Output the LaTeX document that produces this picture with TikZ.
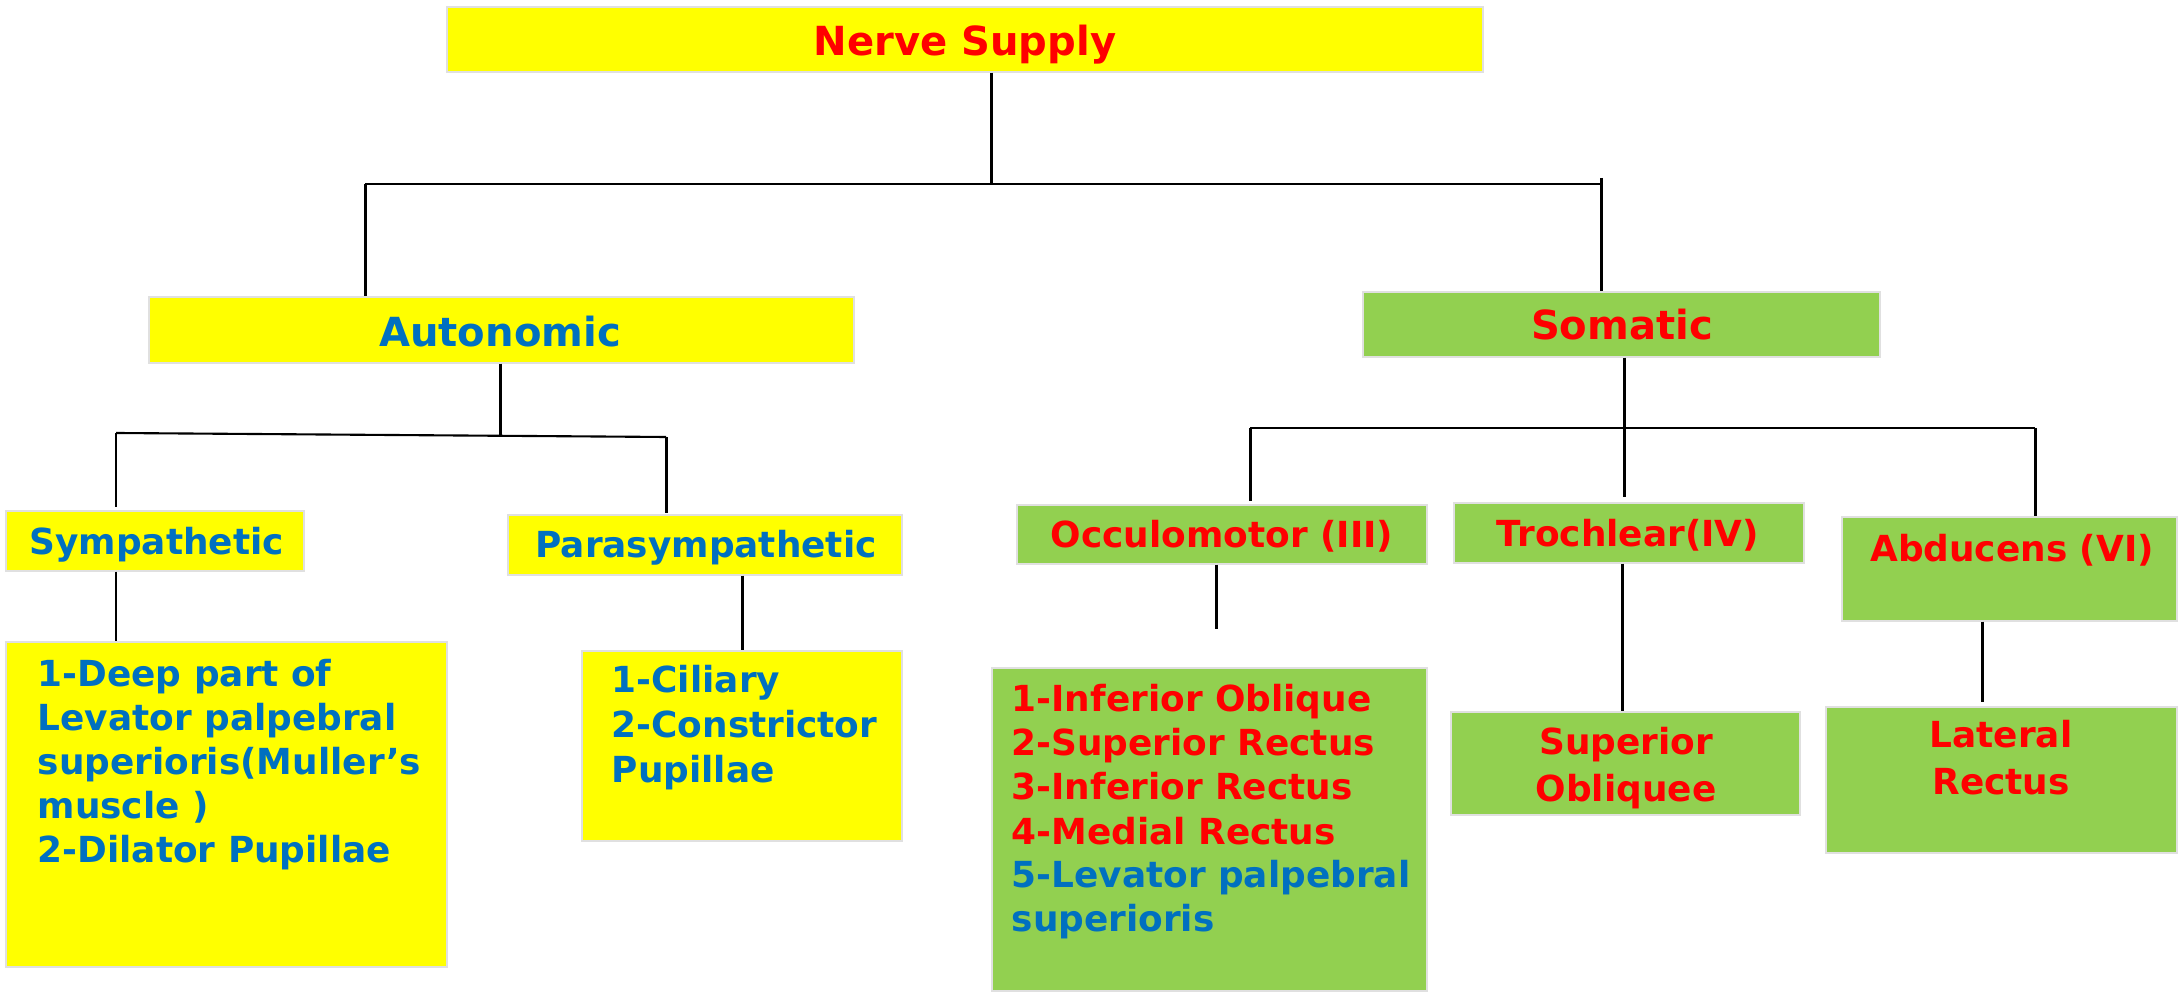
\documentclass[tikz,border=0pt]{standalone}
\usepackage{fontspec}
\setmainfont{DejaVu Sans}
\usetikzlibrary{fit}
\definecolor{yel}{HTML}{FFFF00}
\definecolor{grn}{HTML}{92D050}
\definecolor{rd}{HTML}{FF0000}
\definecolor{bl}{HTML}{0070C0}
\begin{document}
\begin{tikzpicture}[x=0.01cm,y=-0.01cm,
  box/.style={inner sep=0pt, draw=black!12, line width=0.4pt},
  ybox/.style={box, fill=yel},
  gbox/.style={box, fill=grn},
  big/.style={inner sep=0pt, font=\fontsize{11.4}{13}\selectfont\bfseries},
  lbl/.style={inner sep=0pt, font=\fontsize{10.2}{12.5}\selectfont\bfseries},
  conn/.style={line width=0.85pt, black},
  hconn/.style={line width=0.6pt, black}]
\useasboundingbox (0,0) rectangle (2179,995);

% boxes
\node[ybox, fit={(447,7) (1483,72)}] (ns) {};
\node[ybox, fit={(149,297) (854,363)}] (auto) {};
\node[gbox, fit={(1363,292) (1880,357)}] (som) {};
\node[ybox, fit={(6,511) (304,571)}] (sym) {};
\node[ybox, fit={(508,515) (902,575)}] (para) {};
\node[ybox, fit={(6,642) (447,967)}] (symL) {};
\node[ybox, fit={(582,651) (902,841)}] (paraL) {};
\node[gbox, fit={(1017,505) (1427,564)}] (occ) {};
\node[gbox, fit={(1454,503) (1804,563)}] (troch) {};
\node[gbox, fit={(1842,517) (2177,621)}] (abd) {};
\node[gbox, fit={(992,668) (1427,991)}] (occL) {};
\node[gbox, fit={(1451,712) (1800,815)}] (so) {};
\node[gbox, fit={(1826,707) (2177,853)}] (lr) {};

% texts
\node[big, text=rd, anchor=base] (tns) at (965,56) {Nerve Supply};
\node[big, text=bl, anchor=base] (tauto) at (500,347) {Autonomic};
\node[big, text=rd, anchor=base] (tsom) at (1622,340) {Somatic};
\node[lbl, text=bl, anchor=base west] (tsym) at (29,555) {Sympathetic};
\node[lbl, text=bl, anchor=base] (tpara) at (706,558) {Parasympathetic};
\node[lbl, text=rd, anchor=base] (tocc) at (1222,548) {Occulomotor (III)};
\node[lbl, text=rd, anchor=base] (ttroch) at (1628,547) {Trochlear(IV)};
\node[lbl, text=rd, anchor=base] (tabd) at (2012,562) {Abducens (VI)};

\node[lbl, text=bl, anchor=base west] (s1) at (37,687) {1-Deep part of};
\node[lbl, text=bl, anchor=base west] (s2) at (37,731) {Levator palpebral};
\node[lbl, text=bl, anchor=base west] (s3) at (37,775) {superioris(Muller’s};
\node[lbl, text=bl, anchor=base west] (s4) at (37,819) {muscle )};
\node[lbl, text=bl, anchor=base west] (s5) at (37,863) {2-Dilator Pupillae};

\node[lbl, text=bl, anchor=base west] (p1) at (611,693) {1-Ciliary};
\node[lbl, text=bl, anchor=base west] (p2) at (611,738) {2-Constrictor};
\node[lbl, text=bl, anchor=base west] (p3) at (611,783) {Pupillae};

\node[lbl, text=rd, anchor=base west] (o1) at (1011,712) {1-Inferior Oblique};
\node[lbl, text=rd, anchor=base west] (o2) at (1011,756) {2-Superior Rectus};
\node[lbl, text=rd, anchor=base west] (o3) at (1011,800) {3-Inferior Rectus};
\node[lbl, text=rd, anchor=base west] (o4) at (1011,844) {4-Medial Rectus};
\node[lbl, text=bl, anchor=base west] (o5) at (1011,888) {5-Levator palpebral};
\node[lbl, text=bl, anchor=base west] (o6) at (1011,932) {superioris};

\node[lbl, text=rd, anchor=base] (so1) at (1626,755) {Superior};
\node[lbl, text=rd, anchor=base] (so2) at (1626,802) {Obliquee};
\node[lbl, text=rd, anchor=base] (lr1) at (2001,748) {Lateral};
\node[lbl, text=rd, anchor=base] (lr2) at (2001,795) {Rectus};

% junction coordinates
\coordinate (ja) at (365,184);
\coordinate (jb) at (991,184);
\coordinate (jc) at (1601,184);
\coordinate (jc0) at (1601,178);
\coordinate (jd) at (116,433);
\coordinate (je) at (500,435);
\coordinate (jf) at (666,437);
\coordinate (jsy) at (116,507);
\coordinate (jpa) at (666,513);
\coordinate (xp) at (742,0);
\coordinate (jg) at (1250,428);
\coordinate (jh) at (1624,428);
\coordinate (ji) at (2035,428);
\coordinate (jt) at (1624,497);
\coordinate (jo) at (1250,501);
\coordinate (xo) at (1216,0);
\coordinate (oe) at (1216,629);
\coordinate (xt) at (1622,0);
\coordinate (xa) at (1982,0);
\coordinate (ae) at (1982,702);

% connectors
\draw[conn] (ns.south -| jb) -- (jb);
\draw[hconn] (ja) -- (jc);
\draw[conn] (ja) -- (auto.north -| ja);
\draw[conn] (jc0) -- (som.north -| jc);

\draw[conn] (auto.south -| je) -- (je);
\draw[hconn] (jd) -- (jf);
\draw[conn] (jd) -- (jsy);
\draw[conn] (jf) -- (jpa);
\draw[conn] (sym.south -| jd) -- (symL.north -| jd);
\draw[conn] (para.south -| xp) -- (paraL.north -| xp);

\draw[conn] (som.south -| jh) -- (jt);
\draw[hconn] (jg) -- (ji);
\draw[conn] (jg) -- (jo);
\draw[conn] (ji) -- (abd.north -| ji);
\draw[conn] (occ.south -| xo) -- (oe);
\draw[conn] (troch.south -| xt) -- (so.north -| xt);
\draw[conn] (abd.south -| xa) -- (ae);
\end{tikzpicture}
\end{document}
